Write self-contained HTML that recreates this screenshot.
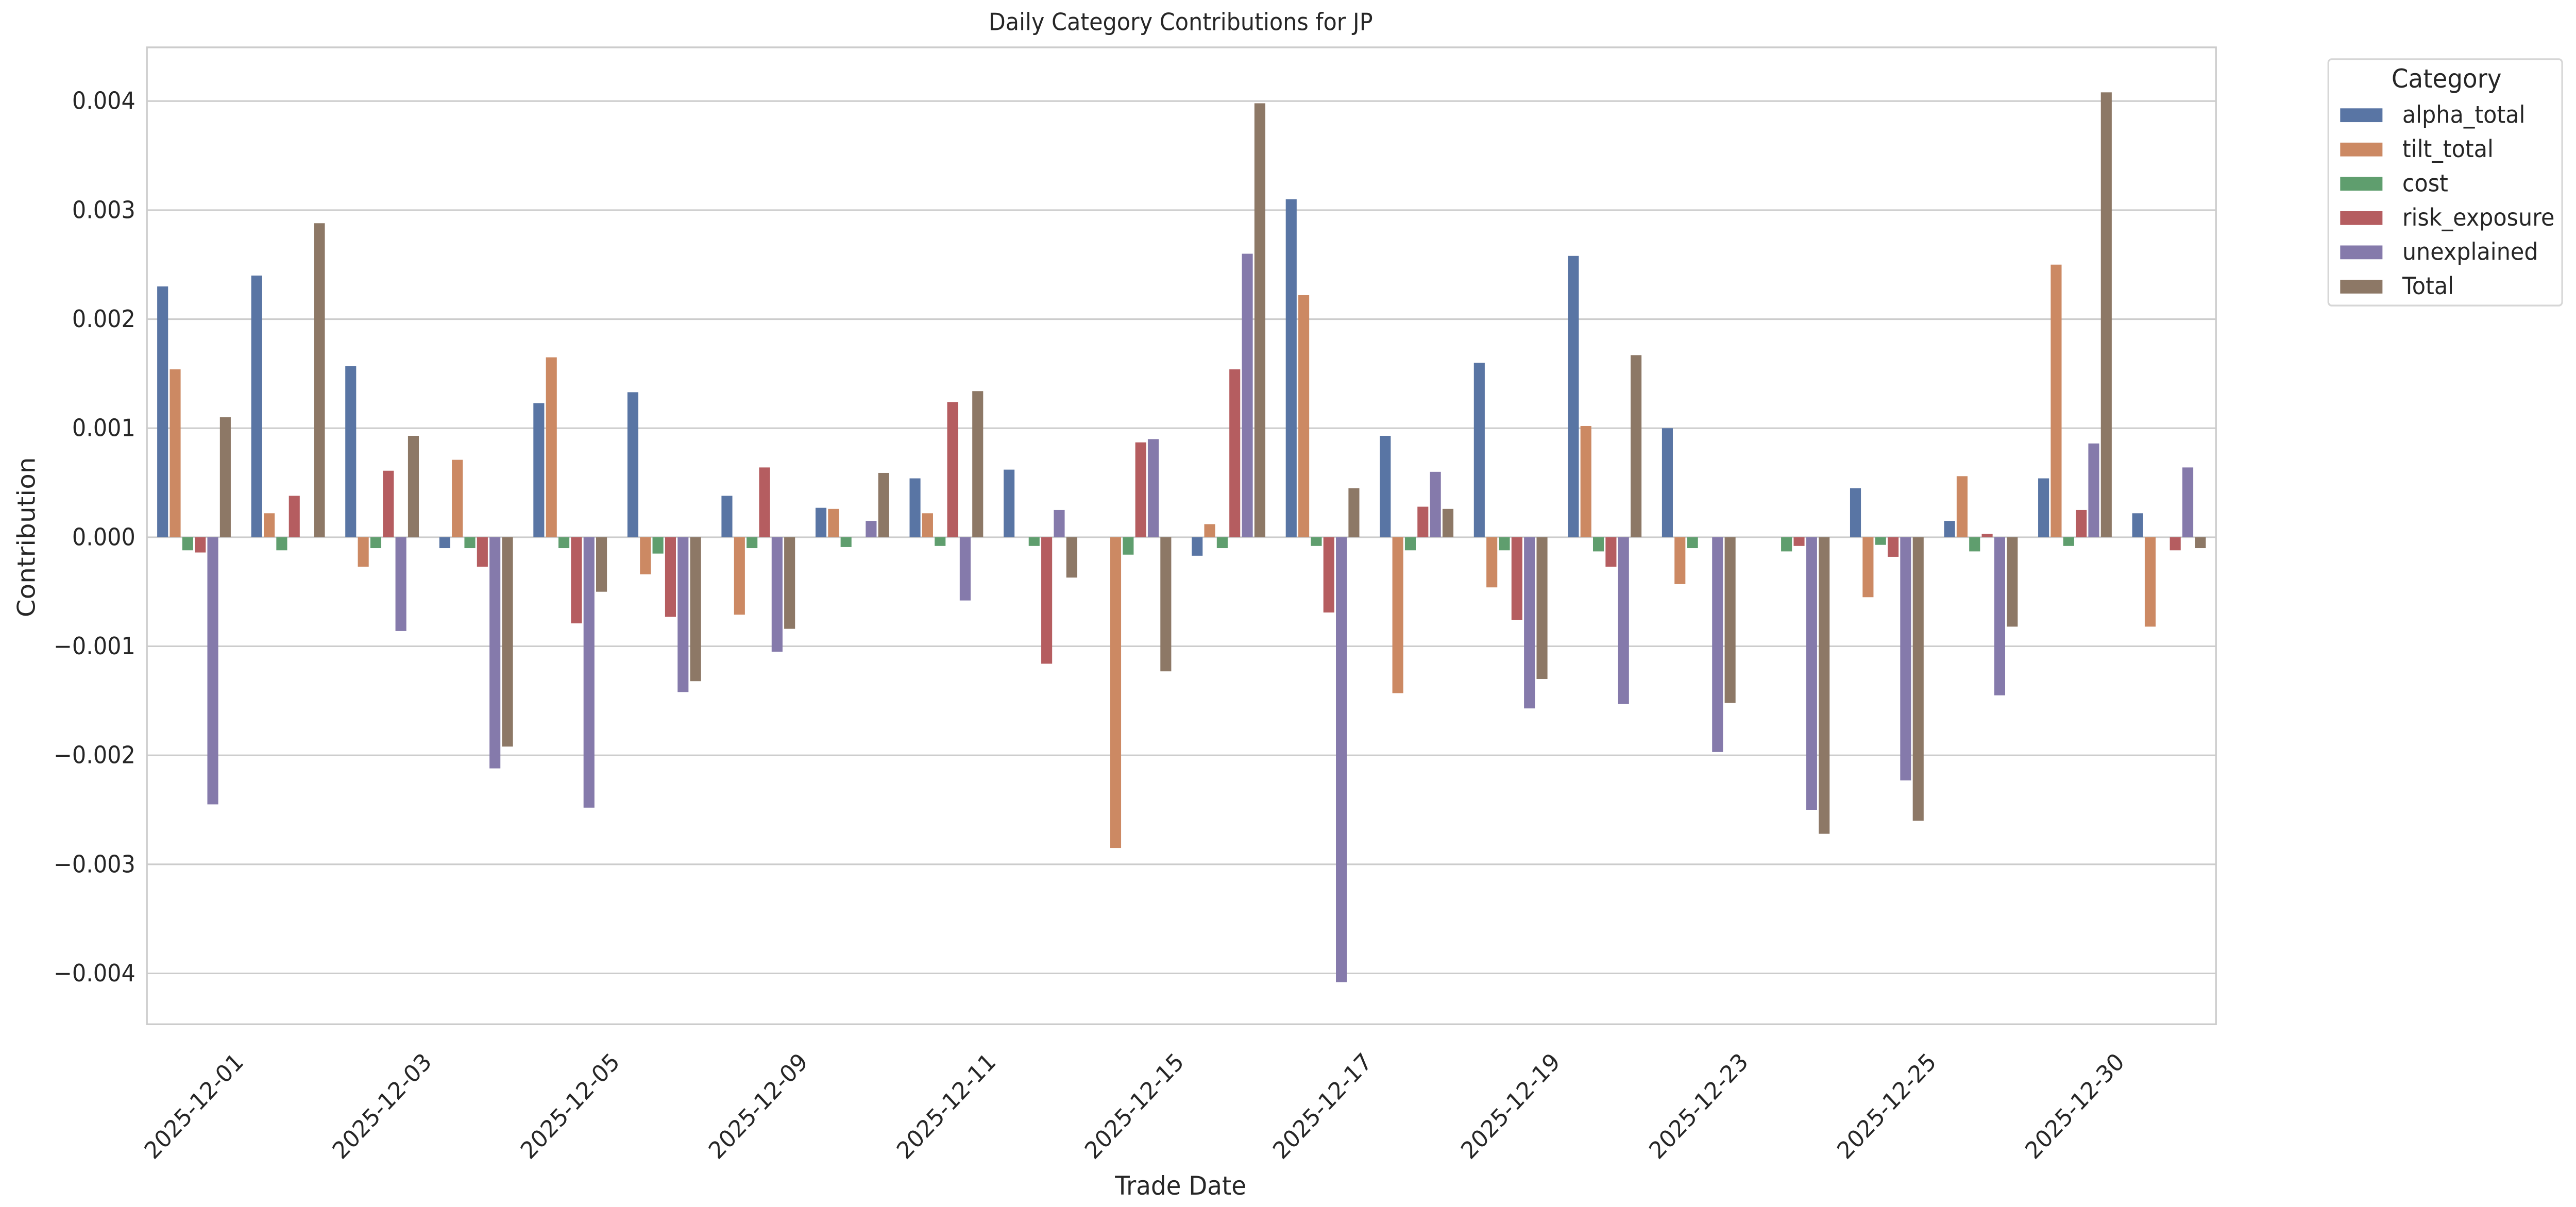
<!DOCTYPE html>
<html><head><meta charset="utf-8"><style>
html,body{margin:0;padding:0;background:#fff;overflow:hidden;width:100vw;height:100vh;}
svg{display:block;position:absolute;left:0;top:0;width:100vw;height:100vh;font-family:"DejaVu Sans","Liberation Sans",sans-serif;}
</style></head><body>
<svg id="c" viewBox="0 0 1560 683" preserveAspectRatio="none" xmlns="http://www.w3.org/2000/svg">
<rect width="1560" height="683" fill="#fff"/>
<g id="grid" stroke="#cccccc" stroke-width="0.9"></g>
<g id="bars"></g>
<rect x="89" y="26.8" width="1253" height="552.8" fill="none" stroke="#cccccc" stroke-width="1"/>
<text x="715" y="17" font-size="13.4" text-anchor="middle" fill="#262626">Daily Category Contributions for JP</text>
<g font-size="13.4" fill="#262626" text-anchor="end">
<text x="82" y="61.7">0.004</text>
<text x="82" y="123.4">0.003</text>
<text x="82" y="185.1">0.002</text>
<text x="82" y="246.8">0.001</text>
<text x="82" y="308.5">0.000</text>
<text x="82" y="370.2">−0.001</text>
<text x="82" y="431.9">−0.002</text>
<text x="82" y="493.6">−0.003</text>
<text x="82" y="555.3">−0.004</text>
</g>
<text transform="translate(21,304) rotate(-90)" font-size="14.6" text-anchor="middle" fill="#262626">Contribution</text>
<text x="715" y="676" font-size="14.6" text-anchor="middle" fill="#262626">Trade Date</text>
<g font-size="13.4" fill="#262626" text-anchor="middle">
<text transform="translate(117.5,626) rotate(-45)" dy="4.5">2025-12-01</text>
<text transform="translate(231.4,626) rotate(-45)" dy="4.5">2025-12-03</text>
<text transform="translate(345.3,626) rotate(-45)" dy="4.5">2025-12-05</text>
<text transform="translate(459.2,626) rotate(-45)" dy="4.5">2025-12-09</text>
<text transform="translate(573.1,626) rotate(-45)" dy="4.5">2025-12-11</text>
<text transform="translate(687.0,626) rotate(-45)" dy="4.5">2025-12-15</text>
<text transform="translate(800.9,626) rotate(-45)" dy="4.5">2025-12-17</text>
<text transform="translate(914.8,626) rotate(-45)" dy="4.5">2025-12-19</text>
<text transform="translate(1028.7,626) rotate(-45)" dy="4.5">2025-12-23</text>
<text transform="translate(1142.6,626) rotate(-45)" dy="4.5">2025-12-25</text>
<text transform="translate(1256.5,626) rotate(-45)" dy="4.5">2025-12-30</text>
</g>
<rect x="1410" y="33.5" width="141.6" height="139.4" rx="2" fill="#fff" stroke="#d6d6d6" stroke-width="1"/>
<text x="1481.6" y="49.5" font-size="14.6" text-anchor="middle" fill="#262626">Category</text>
<g font-size="13.4" fill="#262626">
<rect x="1417.2" y="61.3" width="25.6" height="7.8" fill="#5975a4"/><text x="1454.8" y="69.5">alpha_total</text>
<rect x="1417.2" y="80.7" width="25.6" height="7.8" fill="#cc8963"/><text x="1454.8" y="88.9">tilt_total</text>
<rect x="1417.2" y="100.1" width="25.6" height="7.8" fill="#5f9e6e"/><text x="1454.8" y="108.3">cost</text>
<rect x="1417.2" y="119.5" width="25.6" height="7.8" fill="#b55d60"/><text x="1454.8" y="127.7">risk_exposure</text>
<rect x="1417.2" y="138.9" width="25.6" height="7.8" fill="#857aab"/><text x="1454.8" y="147.1">unexplained</text>
<rect x="1417.2" y="158.3" width="25.6" height="7.8" fill="#8d7866"/><text x="1454.8" y="166.5">Total</text>
</g>
</svg>
<script>
(function(){
var NS="http://www.w3.org/2000/svg";
var g=document.getElementById("grid");
for(var k=-4;k<=4;k++){var y=304-k*61.7;var l=document.createElementNS(NS,"line");
l.setAttribute("x1",89);l.setAttribute("x2",1342);l.setAttribute("y1",y);l.setAttribute("y2",y);g.appendChild(l);}
var cols=["#5975a4","#cc8963","#5f9e6e","#b55d60","#857aab","#8d7866"];
var d=[
[2.3,1.54,-0.12,-0.14,-2.45,1.1],
[2.4,0.22,-0.12,0.38,0,2.88],
[1.57,-0.27,-0.1,0.61,-0.86,0.93],
[-0.1,0.71,-0.1,-0.27,-2.12,-1.92],
[1.23,1.65,-0.1,-0.79,-2.48,-0.5],
[1.33,-0.34,-0.15,-0.73,-1.42,-1.32],
[0.38,-0.71,-0.1,0.64,-1.05,-0.84],
[0.27,0.26,-0.09,0,0.15,0.59],
[0.54,0.22,-0.08,1.24,-0.58,1.34],
[0.62,0,-0.08,-1.16,0.25,-0.37],
[0,-2.85,-0.16,0.87,0.9,-1.23],
[-0.17,0.12,-0.1,1.54,2.6,3.98],
[3.1,2.22,-0.08,-0.69,-4.08,0.45],
[0.93,-1.43,-0.12,0.28,0.6,0.26],
[1.6,-0.46,-0.12,-0.76,-1.57,-1.3],
[2.58,1.02,-0.13,-0.27,-1.53,1.67],
[1.0,-0.43,-0.1,0,-1.97,-1.52],
[0,0,-0.13,-0.08,-2.5,-2.72],
[0.45,-0.55,-0.07,-0.18,-2.23,-2.6],
[0.15,0.56,-0.13,0.03,-1.45,-0.82],
[0.54,2.5,-0.08,0.25,0.86,4.08],
[0.22,-0.82,0,-0.12,0.64,-0.1]];
var b=document.getElementById("bars");var gw=1253/22,bw=gw*0.8/6;
for(var i=0;i<22;i++)for(var j=0;j<6;j++){var v=d[i][j];if(v===0)continue;
var x=89+i*gw+gw*0.1+j*bw;var h=Math.abs(v)*61.7;var y=v>0?304-h:304;
var r=document.createElementNS(NS,"rect");r.setAttribute("x",x+0.5);r.setAttribute("width",bw-1);
r.setAttribute("y",y);r.setAttribute("height",h);r.setAttribute("fill",cols[j]);b.appendChild(r);}
})();
</script>
</body></html>
